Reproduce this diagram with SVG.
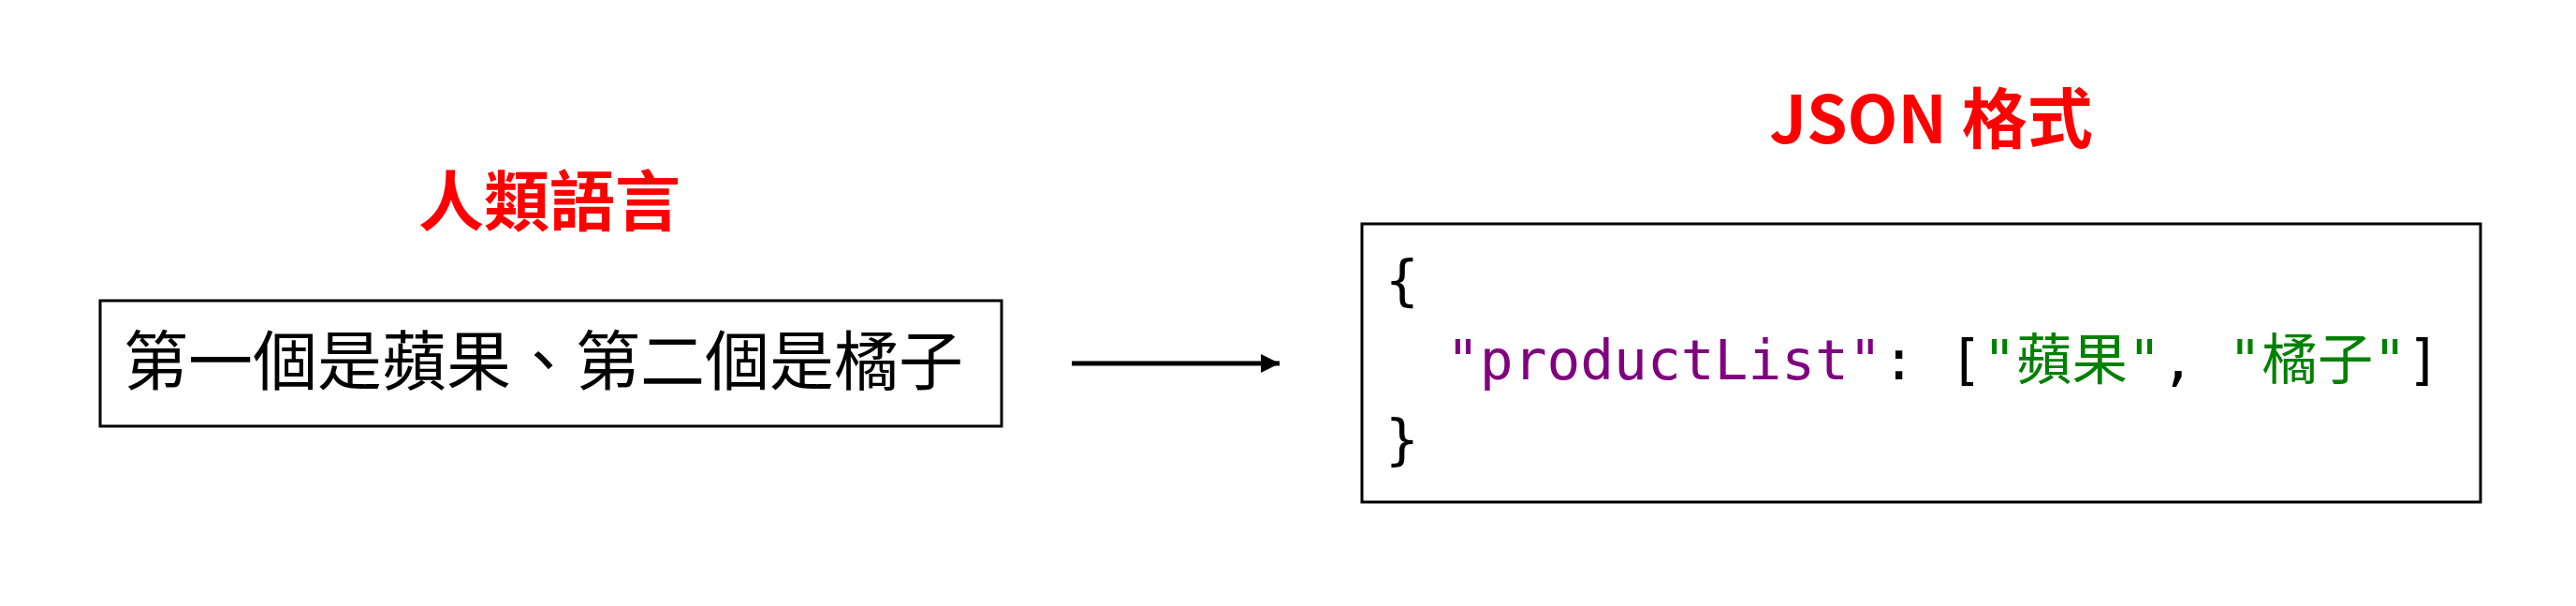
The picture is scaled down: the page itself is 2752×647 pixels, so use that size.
<svg xmlns="http://www.w3.org/2000/svg" width="2752" height="647" viewBox="0 0 2752 647">
<style>
.title{font-family:"Noto Sans CJK TC","Noto Sans",sans-serif;font-weight:bold;font-size:70px;fill:#ff0000;text-anchor:middle}
.box{fill:#ffffff;stroke:#000000;stroke-width:3}
.human{font-family:"Noto Sans CJK TC",sans-serif;font-size:69px;fill:#000000}
.code{font-family:"DejaVu Sans Mono","Noto Sans CJK TC",monospace;font-size:59.5px;fill:#000000}
.key{fill:#800080}
.str{fill:#008000}
</style>
<defs>
<marker id="ah" markerWidth="20" markerHeight="20" refX="20" refY="10" orient="auto" markerUnits="userSpaceOnUse">
<path d="M0,0 L20,10 L0,20 Z" fill="#000000"/>
</marker>
</defs>
<rect width="2752" height="647" fill="#ffffff"/>
<g id="human-language">
<text class="title" x="587" y="241">人類語言</text>
<rect class="box" x="107" y="321" width="963" height="134"/>
<text class="human" x="132" y="411">第一個是蘋果、第二個是橘子</text>
</g>
<g id="json-format">
<text class="title" x="2063" y="153">JSON 格式</text>
<rect class="box" x="1455" y="239" width="1195" height="297"/>
<text class="code" x="1480" y="320">{</text>
<text class="code" x="1545" y="405"><tspan class="key">"productList"</tspan>: [<tspan class="str">"蘋果"</tspan>, <tspan class="str">"橘子"</tspan>]</text>
<text class="code" x="1480" y="490">}</text>
</g>
<g id="connectors">
<line x1="1145" y1="388" x2="1367" y2="388" stroke="#000000" stroke-width="5" marker-end="url(#ah)"/>
</g>
</svg>
